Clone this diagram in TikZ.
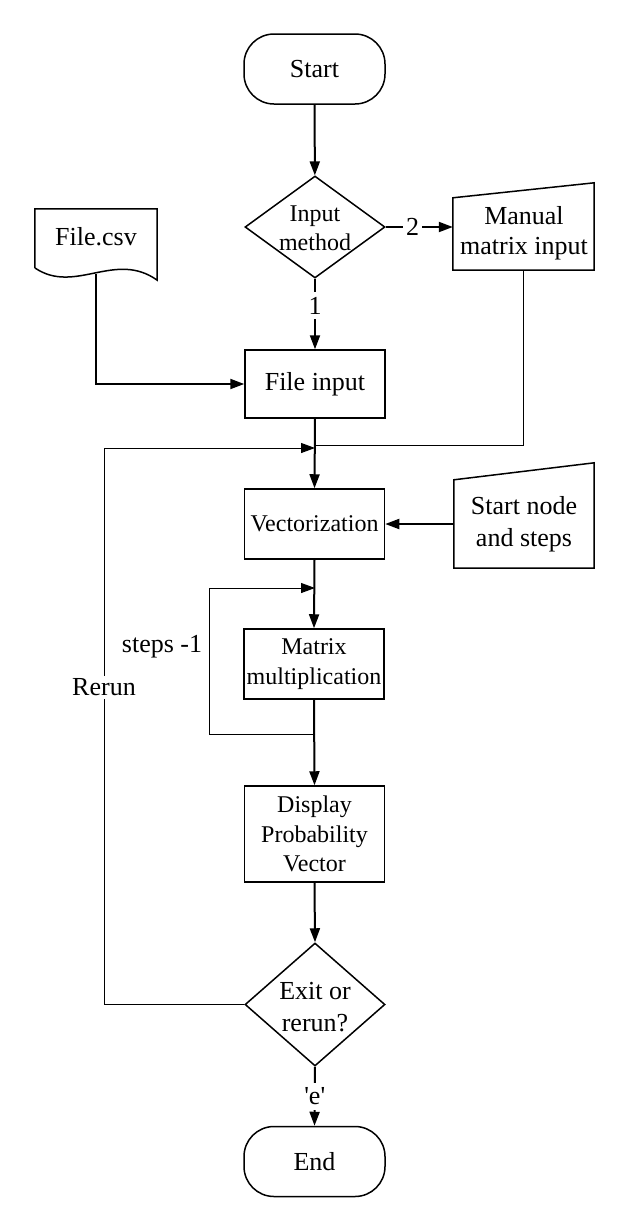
\documentclass[tikz,border=0pt]{standalone}
\usepackage{fontspec}
\setmainfont{Liberation Serif}
\usetikzlibrary{arrows.meta,shapes.geometric,calc}
\begin{document}
\begin{tikzpicture}[x=1pt,y=-1pt,
 base/.style={font=\fontsize{26}{30}\selectfont, align=center, inner sep=0pt},
 small/.style={font=\fontsize{24}{30}\selectfont},
 term/.style={base, draw, line width=1.5pt, rounded corners=30pt, minimum width=141pt, minimum height=70pt},
 proc/.style={base, draw, line width=1.5pt, minimum width=140pt, minimum height=70pt},
 dia/.style={draw, line width=1.5pt, diamond, inner sep=0pt, minimum width=140pt},
 txt/.style={base},
 frame/.style={inner sep=0pt},
 shp/.style={line width=1.5pt},
 tip/.style={-{Triangle[length=14pt,width=10pt]}},
 arr/.style={line width=2pt, tip},
 ln/.style={line width=1pt},
 lab/.style={base, fill=white, inner sep=3pt}
]
\useasboundingbox (0,0) rectangle (630,1232);

% nodes
\node[term] (start) at (314.5,69) {Start};

\node[dia, minimum height=102pt] (d1) at (315,227) {};
\node[txt, font=\fontsize{24}{29}\selectfont] (d1t) at (315,228) {Input\\method};

\node[frame, minimum width=141pt, minimum height=87pt] (man) at (523.5,226.5) {};
\draw[shp] (man.south west) -- ($(man.north west)+(0,15)$) -- (man.north east) -- (man.south east) -- cycle;
\node[txt] (mant) at (524,233) {Manual\\matrix input};

\node[frame, minimum width=122pt, minimum height=71pt] (csv) at (96,244.5) {};
\draw[shp] (35,268) -- (csv.north west) -- (csv.north east) -- (csv.south east) .. controls (115,250) and (75,295) .. (35,268);
\node[txt] (csvt) at (96,237) {File.csv};

\node[proc, minimum height=68pt] (fin) at (315,384) {File input};

\node[proc, small] (vec) at (314.5,524) {Vectorization};

\node[frame, minimum width=140pt, minimum height=105pt] (sns) at (524,515.5) {};
\draw[shp] (sns.south west) -- ($(sns.north west)+(0,17)$) -- (sns.north east) -- (sns.south east) -- cycle;
\node[txt, font=\fontsize{26}{32}\selectfont] (snst) at (524,524) {Start node\\and steps};

\node[proc, small] (mat) at (314,664) {Matrix\\multiplication};

\node[proc, minimum height=96pt, font=\fontsize{24}{29.5}\selectfont] (disp) at (314.5,834) {Display\\Probability\\Vector};

\node[dia, minimum height=123pt] (d2) at (315,1004.5) {};
\node[txt, font=\fontsize{26}{32}\selectfont] (d2t) at (315,1007) {Exit or\\rerun?};

\node[term] (end) at (314.5,1161.5) {End};

\node[txt] (stepsl) at (162,647) {steps -1};

% helper coordinates
\coordinate (csvout) at (96,274);
\coordinate (j1) at (315,445);
\coordinate (j2) at (315,448);
\coordinate (l1) at (315,588);
\coordinate (l2) at (315,734);
\coordinate (lb) at (209,734);
\coordinate (lt) at (209,588);
\coordinate (rb) at (104,1004.5);
\coordinate (rt) at (104,448);

% connectors
\draw[arr] (start) -- (d1);
\draw[arr] (d1.east) -- node[lab, pos=0.4]{2} (d1.east -| man.west);
\draw[arr] (d1.south) -- node[lab, pos=0.38, inner ysep=5pt]{1} (fin.north);
\draw[arr] (csvout) |- (fin.west);
\draw[ln] (man.south) |- (j1);
\draw[arr] (fin.south) -- (vec.north);
\draw[arr] (sns.west |- vec) -- (vec.east);
\draw[arr] (vec.south) -- (mat.north);
\draw[ln, tip] (l2) -- (lb) -- (lt) -- (l1);
\draw[arr] (mat.south) -- (disp.north);
\draw[arr] (disp.south) -- (d2.north);
\draw[ln, tip] (d2.west) -- (rb) -- node[lab, pos=0.57]{Rerun} (rt) -- (j2);
\draw[arr] (d2.south) -- node[lab, inner ysep=5pt]{{\textquotesingle}e{\textquotesingle}} (end.north);
\end{tikzpicture}
\end{document}
